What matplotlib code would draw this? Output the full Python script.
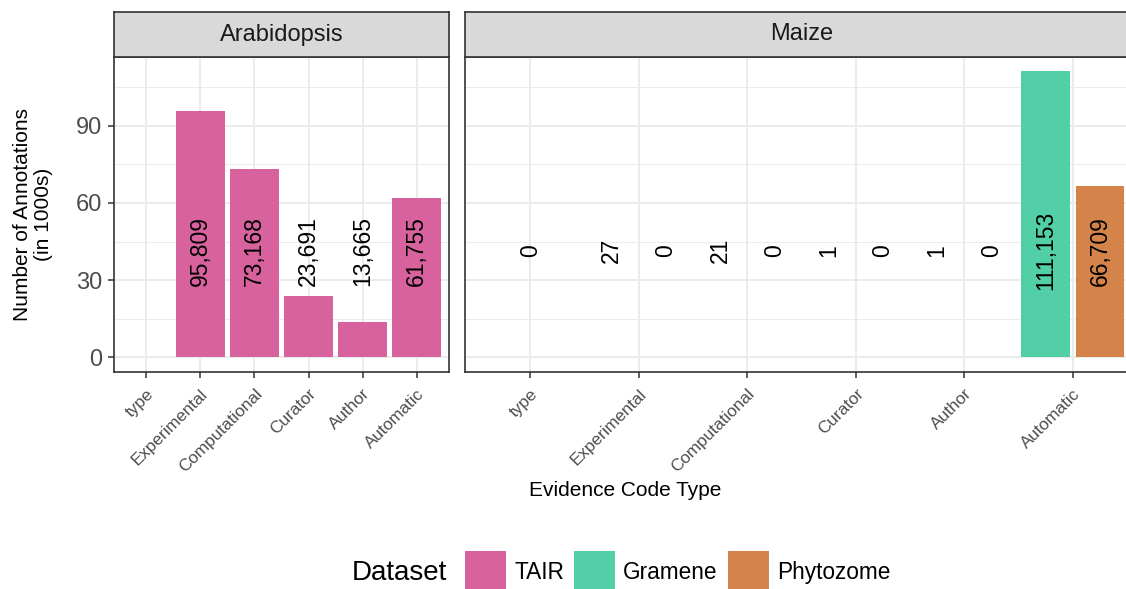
import numpy as np
import matplotlib
matplotlib.use("Agg")
import matplotlib.pyplot as plt
from matplotlib.patches import Patch

plt.rcParams['font.family'] = ['Liberation Sans', 'DejaVu Sans']

# evidence code types (x axis, same for both panels)
categories = ["type", "Experimental", "Computational", "Curator", "Author", "Automatic"]

# raw annotation counts, NaN = no row for that dataset
tair = [np.nan, 95809, 73168, 23691, 13665, 61755]
gramene = [0, 27, 21, 1, 1, 111153]
phytozome = [np.nan, 0, 0, 0, 0, 66709]

datasets = ["TAIR", "Gramene", "Phytozome"]
colors = {"TAIR": "#D7629E", "Gramene": "#52CFA7", "Phytozome": "#D4844A"}

W, H = 1126, 589
fig = plt.figure(figsize=(W / 100, H / 100), dpi=100)


def px_axes(x0, y0, x1, y1):
    return fig.add_axes([x0 / W, 1 - y1 / H, (x1 - x0) / W, (y1 - y0) / H])


ax1 = px_axes(114, 57, 449, 371.7)
ax2 = px_axes(465, 57, 1138, 371.7)
s1 = px_axes(114, 12, 449, 57)
s2 = px_axes(465, 12, 1138, 57)

LABEL_Y = 41.5
x = np.arange(len(categories))


def style_panel(ax):
    ax.set_xlim(-0.6, len(categories) - 0.4)
    ax.set_ylim(-5.56, 116.7)
    ax.set_yticks([0, 30, 60, 90])
    ax.set_yticks([15, 45, 75, 105], minor=True)
    ax.set_xticks(x)
    ax.set_xticklabels(categories, rotation=45, ha='right', va='top',
                       rotation_mode='anchor', fontsize=12.3, color='#4D4D4D')
    ax.tick_params(axis='x', length=4.5, width=1.1, color='#333333', pad=6)
    ax.tick_params(axis='y', length=4.5, width=1.1, color='#333333',
                   labelsize=17, labelcolor='#4D4D4D', pad=4)
    ax.tick_params(axis='y', which='minor', length=0)
    ax.grid(True, which='major', color='#EBEBEB', lw=1.4)
    ax.grid(True, which='minor', axis='y', color='#EBEBEB', lw=0.7)
    ax.set_axisbelow(True)
    for sp in ax.spines.values():
        sp.set_color('#333333')
        sp.set_linewidth(1.2)


def style_strip(ax, title):
    ax.set_facecolor('#D9D9D9')
    ax.set_xticks([])
    ax.set_yticks([])
    for sp in ax.spines.values():
        sp.set_color('#333333')
        sp.set_linewidth(1.2)
    ax.text(0.5, 0.5, title, transform=ax.transAxes, ha='center', va='center',
            fontsize=17, color='#1A1A1A')


style_panel(ax1)
style_panel(ax2)
ax2.tick_params(axis='y', which='both', left=False, labelleft=False)
style_strip(s1, "Arabidopsis")
style_strip(s2, "Maize")

# Arabidopsis: TAIR only
for xi, v in zip(x, tair):
    if np.isnan(v):
        continue
    ax1.bar(xi, v / 1000, width=0.9, color=colors["TAIR"], lw=0)
    ax1.text(xi, LABEL_Y, f"{int(v):,}", rotation=90, ha='center', va='center',
             fontsize=16.5, color='black')

# Maize: Gramene and Phytozome dodged
for xi, g, p in zip(x, gramene, phytozome):
    vals = [(n, v) for n, v in (("Gramene", g), ("Phytozome", p)) if not np.isnan(v)]
    if len(vals) == 1:
        offs, w = [0.0], 0.9
    else:
        offs, w = [-0.25, 0.25], 0.45
    for (name, v), o in zip(vals, offs):
        ax2.bar(xi + o, v / 1000, width=w, color=colors[name], lw=0)
        ax2.text(xi + o, LABEL_Y, f"{int(v):,}", rotation=90, ha='center',
                 va='center', fontsize=16.5, color='black')

fig.text(33 / W, 1 - 214.3 / H, "Number of Annotations\n(in 1000s)", rotation=90,
         ha='center', va='center', multialignment='center', fontsize=15,
         linespacing=1.1)
fig.text(625 / W, 1 - 490 / H, "Evidence Code Type", ha='center', va='center',
         fontsize=15)

# legend at the bottom
fig.text(352 / W, 1 - 573 / H, "Dataset", ha='left', va='center', fontsize=20)
handles = [Patch(facecolor=colors[d], edgecolor='none', label=d) for d in datasets]
fig.legend(handles=handles, ncol=3, loc='center left',
           bbox_to_anchor=(465 / W, 1 - 572 / H), frameon=False, fontsize=16.3,
           handlelength=1.82, handleheight=2.42, handletextpad=0.35,
           columnspacing=0.45, borderpad=0, borderaxespad=0)

fig.savefig("out.png", dpi=100)
